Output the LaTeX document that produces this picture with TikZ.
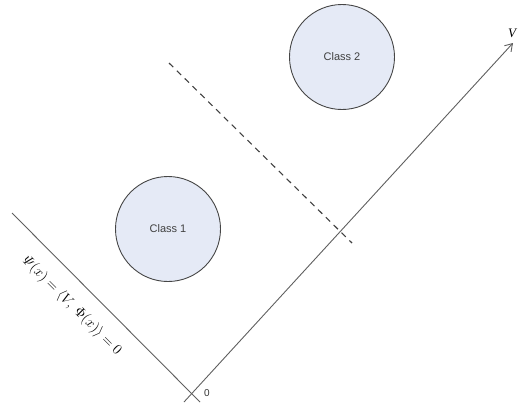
\documentclass[tikz,border=0pt]{standalone}
\usepackage{fontspec}
\setmainfont{Liberation Serif}
\newfontfamily\labelsans{Liberation Sans}
\usetikzlibrary{arrows.meta}
\definecolor{classfill}{RGB}{229,234,246}
\definecolor{linegrey}{RGB}{95,95,95}
\definecolor{edgegrey}{RGB}{70,70,70}
\tikzset{
  classnode/.style={circle, draw=edgegrey, line width=0.9pt, fill=classfill, minimum size=105pt, inner sep=0pt, font=\labelsans\fontsize{11}{13}\selectfont, text=black!75},
  thinline/.style={draw=linegrey, line width=0.9pt},
  dashline/.style={draw=black!75, line width=1.1pt, dash pattern=on 6pt off 5pt},
}
\begin{document}
\begin{tikzpicture}[x=1pt,y=-1pt]
\useasboundingbox (0,0) rectangle (518,407);
% classes
\node[classnode] (c1) at (168,229) {Class 1};
\node[classnode] (c2) at (342,57) {Class 2};
% axis V
\coordinate (o) at (184,402);
\coordinate (vtip) at (513,43);
\draw[thinline, -{Straight Barb[length=7pt, width=9pt]}] (o) -- (vtip);
\node[font=\itshape\fontsize{13}{15}\selectfont] (vl) at (512,33) {V};
% hyperplane
\coordinate (h1) at (12,213);
\coordinate (h2) at (200,402);
\draw[thinline] (h1) -- (h2);
% dashed separator
\coordinate (d1) at (169,63);
\coordinate (d2) at (352,243);
\draw[dashline] (d1) -- (d2);
% labels
\node[font=\labelsans\fontsize{10}{12}\selectfont, text=black!80] (zero) at (207,393) {0};
\node[rotate=-45, font=\fontsize{15}{18}\selectfont] (psi) at (72,306)
  {$\mathnormal{\Psi}(x) = \langle V\!,\ \Phi(x)\rangle = 0$};
\end{tikzpicture}
\end{document}
